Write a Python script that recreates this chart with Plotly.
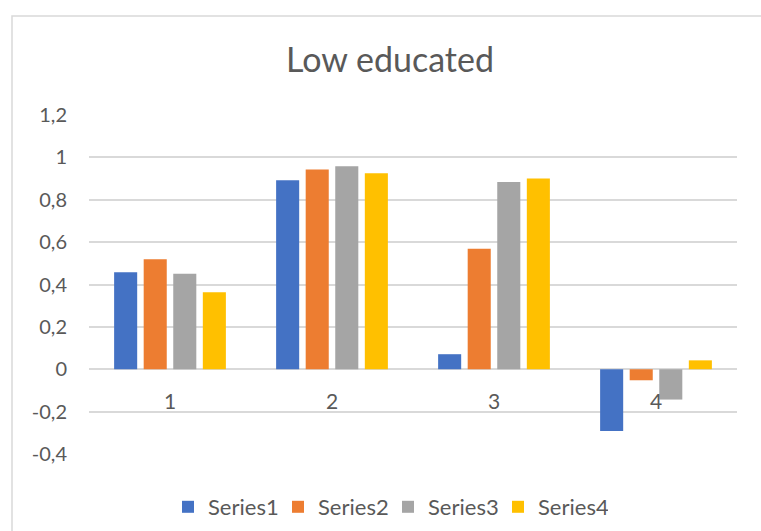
import plotly.graph_objects as go

# Categories and series values
categories = ["1", "2", "3", "4"]
series_names = ["Series1", "Series2", "Series3", "Series4"]
series1 = [0.458, 0.892, 0.071, -0.291]
series2 = [0.519, 0.943, 0.569, -0.052]
series3 = [0.451, 0.958, 0.884, -0.143]
series4 = [0.363, 0.925, 0.900, 0.042]
tick_values = [-0.4, -0.2, 0, 0.2, 0.4, 0.6, 0.8, 1, 1.2]
tick_labels = ["-0,4", "-0,2", "0", "0,2", "0,4", "0,6", "0,8", "1", "1,2"]

colors = ["#4472C4", "#ED7D31", "#A5A5A5", "#FFC000"]
text_color = "#595959"
grid_color = "#D9D9D9"
font_family = "Lato, 'Open Sans', sans-serif"

W, H = 761, 531
L, R, T, B = 89, 24, 115, 77
plot_w = W - L - R
plot_h = H - T - B


def px_to_paper_x(px):
    return (px - L) / plot_w


def px_to_paper_y(py):
    return (H - B - py) / plot_h


fig = go.Figure()
for name, vals, col in zip(series_names, [series1, series2, series3, series4], colors):
    fig.add_trace(go.Bar(
        x=categories, y=vals, name=name,
        marker=dict(color=col, line=dict(width=0)),
    ))

# Category labels sit just below the zero line (positioned by category index)
for i, c in enumerate(categories):
    fig.add_annotation(
        x=i, y=0, xref="x", yref="y", text=c, showarrow=False,
        yshift=-31, font=dict(size=21, color=text_color, family=font_family),
    )

# Chart-area border
fig.add_shape(
    type="rect", xref="paper", yref="paper",
    x0=px_to_paper_x(12), y0=px_to_paper_y(H + 20),
    x1=px_to_paper_x(W + 20), y1=px_to_paper_y(16),
    line=dict(color=grid_color, width=1.5), fillcolor="rgba(0,0,0,0)", layer="below",
)

fig.update_layout(
    width=W, height=H,
    margin=dict(l=L, r=R, t=T, b=B),
    paper_bgcolor="white", plot_bgcolor="white",
    font=dict(family=font_family, color=text_color, size=20),
    title=dict(
        text="Low educated", x=390 / W, xref="container", xanchor="center",
        y=1 - 60 / H, yref="container", yanchor="middle",
        font=dict(size=34, color=text_color, family=font_family),
    ),
    barmode="group", bargap=0.27, bargroupgap=0.22,
    showlegend=True,
    legend=dict(
        orientation="h", x=388 / W, xref="container", xanchor="center",
        y=(H - 507) / H, yref="container", yanchor="middle",
        font=dict(size=22, color=text_color, family=font_family),
        entrywidth=65, entrywidthmode="pixels", itemwidth=30,
    ),
    xaxis=dict(type="category", range=[-0.5, len(categories) - 0.5],
               showticklabels=False, showgrid=False,
               zeroline=False, showline=False, ticks=""),
    yaxis=dict(
        range=[-0.4, 1.2], tickvals=tick_values, ticktext=tick_labels,
        showgrid=True, gridcolor=grid_color, gridwidth=1.5,
        zeroline=True, zerolinecolor=grid_color, zerolinewidth=1.5,
        showline=False, ticks="", ticklabelstandoff=21,
        tickfont=dict(size=20, color=text_color, family=font_family),
    ),
)

fig.write_html("out.html")
